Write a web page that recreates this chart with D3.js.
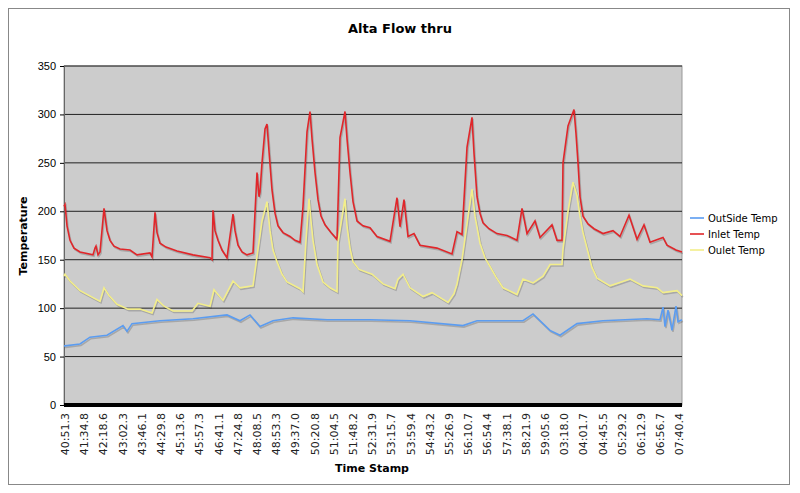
<!DOCTYPE html>
<html><head><meta charset="utf-8">
<script src="https://cdn.jsdelivr.net/npm/d3@7"></script>
<style>body{margin:0;background:#fff;font-family:"DejaVu Sans",Verdana,sans-serif}</style>
</head><body>
<script>
var timeLabels = ["40:51.3","41:34.8","42:18.6","43:02.3","43:46.1","44:29.8","45:13.6","45:57.3","46:41.1","47:24.8","48:08.5","48:53.3","49:37.0","50:20.8","51:04.5","51:48.2","52:31.9","53:15.7","53:59.4","54:43.2","55:26.9","56:10.7","56:54.4","57:38.1","58:21.9","59:05.6","03:18.0","04:01.7","04:45.5","05:29.2","06:12.9","06:56.7","07:40.4"];
// sample index, value
var inlet = [[0,205],[1,207],[3,185],[6,170],[10,162],[16,158],[29,155],[31,162],[32,164],[34,155],[36,158],[40,203],[43,180],[46,170],[50,164],[56,161],[66,160],[73,155],[86,157],[88,153],[91,199],[93,178],[96,167],[102,163],[113,159],[129,155],[146,152],[148,150],[149,201],[151,180],[154,170],[158,160],[163,152],[169,197],[171,180],[174,165],[178,158],[183,155],[189,157],[193,240],[195,215],[196,220],[198,250],[201,285],[203,290],[205,262],[208,222],[211,198],[214,185],[219,178],[226,174],[231,170],[236,168],[239,205],[243,282],[246,303],[248,275],[251,240],[254,212],[257,195],[261,186],[267,178],[273,171],[276,276],[281,303],[283,275],[286,240],[289,210],[293,190],[299,185],[306,183],[313,174],[326,169],[333,214],[336,184],[340,212],[344,174],[350,177],[356,165],[373,162],[388,156],[393,179],[398,176],[403,266],[408,297],[410,260],[413,215],[416,198],[419,188],[425,182],[433,177],[443,175],[453,170],[458,203],[463,177],[471,190],[476,173],[488,186],[493,170],[498,170],[499,250],[504,288],[510,305],[512,280],[514,250],[516,215],[519,195],[524,187],[530,182],[539,177],[549,180],[556,174],[565,196],[573,171],[580,186],[586,168],[599,173],[603,165],[612,160],[618,158]];
var outlet = [[0,133],[1,135],[6,128],[16,118],[36,107],[40,121],[45,113],[53,104],[64,99],[76,99],[88,95],[93,109],[100,102],[109,97],[128,97],[134,105],[146,102],[150,119],[159,108],[169,128],[176,121],[189,123],[194,161],[198,190],[203,210],[206,180],[209,160],[213,148],[218,135],[223,127],[236,120],[239,117],[242,170],[245,213],[247,190],[249,170],[253,145],[259,127],[266,121],[273,117],[274,168],[281,213],[283,185],[286,162],[289,148],[295,140],[308,135],[319,125],[331,120],[334,130],[339,135],[346,121],[359,112],[368,116],[384,106],[390,115],[393,125],[398,150],[403,187],[408,223],[411,195],[416,167],[421,152],[426,143],[432,132],[439,121],[453,114],[459,130],[469,126],[479,133],[486,145],[498,145],[499,161],[504,200],[509,230],[513,216],[516,195],[519,178],[524,158],[528,142],[533,131],[546,123],[566,130],[579,123],[593,121],[599,116],[613,118],[618,113]];
var outside = [[0,61],[1,61],[16,63],[26,70],[43,72],[59,82],[63,76],[68,84],[96,87],[129,89],[163,93],[176,87],[186,93],[196,81],[209,87],[229,90],[263,88],[306,88],[346,87],[399,82],[413,87],[459,87],[469,94],[486,77],[496,72],[513,84],[539,87],[583,89],[596,88],[599,101],[601,81],[604,98],[608,77],[612,102],[614,86],[618,88]];
var yTicks = [0,50,100,150,200,250,300,350];
var series = [
  {name:"OutSide Temp", color:"#5b9cf0", data:outside},
  {name:"Inlet Temp", color:"#e0262a", data:inlet},
  {name:"Oulet Temp", color:"#f3ee8a", data:outlet}
];

var W = 800, H = 493;
var svg = d3.select("body").append("svg").attr("width", W).attr("height", H);
svg.append("rect").attr("x",8.5).attr("y",8.5).attr("width",781).attr("height",476)
  .attr("fill","#fff").attr("stroke","#888");

var L = 64, R = 682, T = 66, B = 405;
var x = d3.scaleLinear().domain([0, 618]).range([L, R]);
var y = d3.scaleLinear().domain([0, 350]).range([B, T]);
var labelPos = (i) => 1 + i * 19.2;

svg.append("rect").attr("x",L).attr("y",T).attr("width",R-L).attr("height",B-T)
  .attr("fill","#cccccc").attr("stroke","#999");

svg.append("g").selectAll("line").data(yTicks.slice(1)).enter().append("line")
  .attr("x1",L).attr("x2",R).attr("y1",d=>y(d)).attr("y2",d=>y(d))
  .attr("stroke","#222").attr("stroke-width",1);

var yAxis = svg.append("g").attr("transform",`translate(${L},0)`)
  .call(d3.axisLeft(y).tickValues(yTicks).tickSize(4).tickPadding(4));
yAxis.select(".domain").attr("stroke","#666");
yAxis.selectAll("text").attr("font-size",11).attr("font-family","Liberation Sans, Arial, sans-serif");

var line = d3.line().x(d=>x(d[0])).y(d=>y(d[1]));
series.forEach(s=>{
  svg.append("path").datum(s.data).attr("d",line).attr("fill","none")
    .attr("stroke","rgba(0,0,0,0.18)").attr("stroke-width",1.6)
    .attr("transform","translate(1,1.5)");
  svg.append("path").datum(s.data).attr("d",line).attr("fill","none")
    .attr("stroke",s.color).attr("stroke-width",1.6);
});

svg.append("rect").attr("x",L).attr("y",B-2).attr("width",R-L).attr("height",4).attr("fill","#000");

var xg = svg.append("g");
xg.selectAll("text").data(timeLabels).enter().append("text")
  .attr("transform",(d,i)=>`translate(${x(labelPos(i))+4},${B+8}) rotate(-90)`)
  .attr("text-anchor","end").attr("font-size",11).attr("fill","#222")
  .attr("font-family","DejaVu Sans, Verdana, sans-serif").text(d=>d);

svg.append("text").attr("x",400).attr("y",33).attr("text-anchor","middle")
  .attr("font-size",13).attr("font-weight","bold").text("Alta Flow thru");
svg.append("text").attr("x",372).attr("y",472).attr("text-anchor","middle")
  .attr("font-size",11).attr("font-weight","bold").text("Time Stamp");
svg.append("text").attr("transform","translate(27,236) rotate(-90)").attr("text-anchor","middle")
  .attr("font-size",11).attr("font-weight","bold").text("Temperature");

var leg = svg.append("g").selectAll("g").data(series).enter().append("g")
  .attr("transform",(d,i)=>`translate(690,${218+i*16})`);
leg.append("line").attr("x1",0).attr("x2",14).attr("stroke",d=>d.color).attr("stroke-width",1.6);
leg.append("text").attr("x",18).attr("y",4).attr("font-size",10)
  .attr("font-family","DejaVu Sans, Verdana, sans-serif").text(d=>d.name);
</script>
</body></html>
